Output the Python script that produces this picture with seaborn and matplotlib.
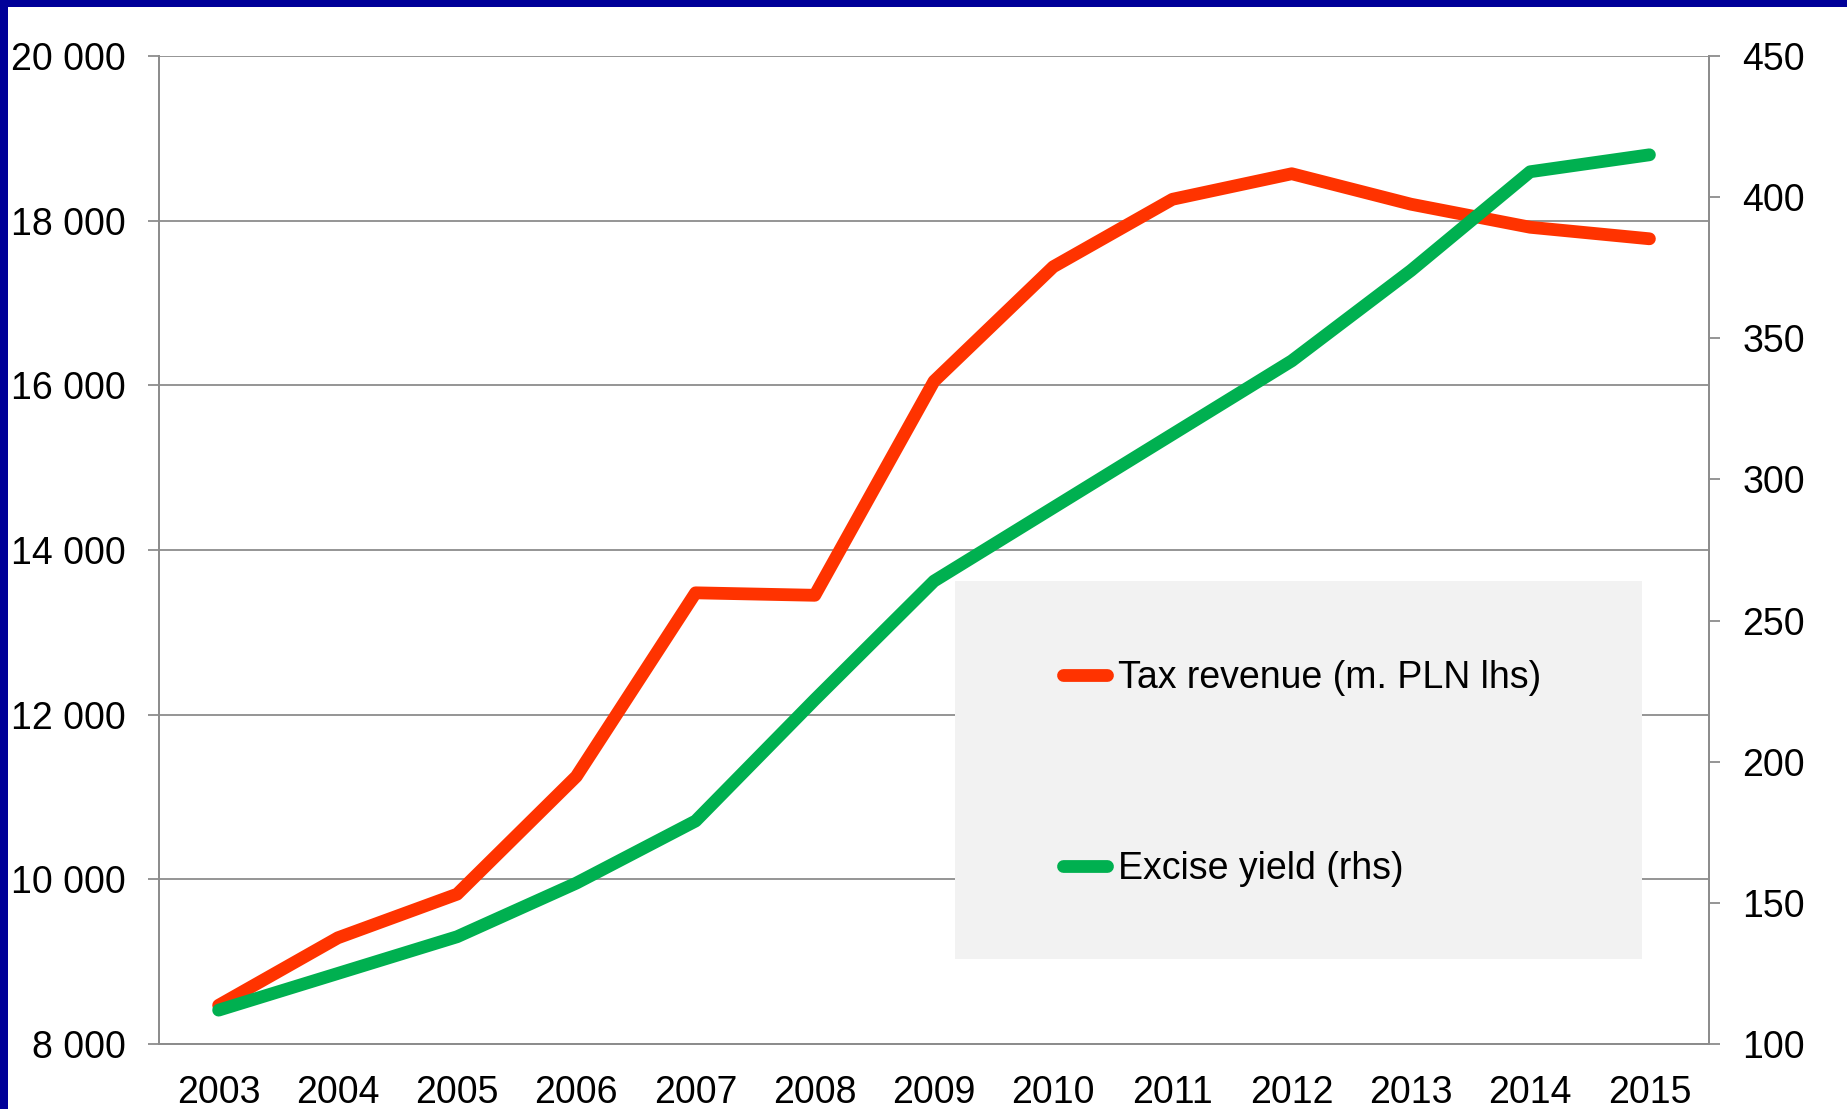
import numpy as np
import pandas as pd
import matplotlib
matplotlib.use("Agg")
import matplotlib.pyplot as plt
import seaborn as sns
from matplotlib.patches import Rectangle

years = ['2003', '2004', '2005', '2006', '2007', '2008', '2009',
         '2010', '2011', '2012', '2013', '2014', '2015']
tax_revenue = [8470, 9290, 9820, 11250, 13480, 13450, 16050,
               17440, 18260, 18570, 18200, 17920, 17780]
excise_yield = [112, 125, 138, 157, 179, 222, 264,
                290, 316, 342, 374, 409, 415]

left_ticks = [8000, 10000, 12000, 14000, 16000, 18000, 20000]
right_ticks = [100, 150, 200, 250, 300, 350, 400, 450]

label_tax = "Tax revenue (m. PLN lhs)"
label_exc = "Excise yield (rhs)"

red = '#FF3300'
green = '#00B050'
grey = '#8C8C8C'

df = pd.DataFrame({'pos': np.arange(len(years)), 'year': years,
                   'tax': tax_revenue, 'excise': excise_yield})

sns.set_style("white")
plt.rcParams['font.family'] = ['Liberation Sans', 'DejaVu Sans']
plt.rcParams['text.color'] = 'black'
plt.rcParams['xtick.labelcolor'] = 'black'
plt.rcParams['ytick.labelcolor'] = 'black'

fig, ax = plt.subplots(figsize=(18.47, 11.09), dpi=100)
fig.subplots_adjust(left=0.0861, right=0.9253, top=0.9495, bottom=0.0586)
ax2 = ax.twinx()

lw = 9.2
sns.lineplot(data=df, x='pos', y='tax', ax=ax, color=red, lw=lw,
             solid_capstyle='round', solid_joinstyle='round', label=label_tax, legend=False)
sns.lineplot(data=df, x='pos', y='excise', ax=ax2, color=green, lw=lw,
             solid_capstyle='round', solid_joinstyle='round', label=label_exc, legend=False)

# x axis: ticks between categories, labels at centres
ax.set_xlim(-0.5, len(years) - 0.5)
ax.set_xticks(np.arange(-0.5, len(years), 1.0))
ax.set_xticklabels([])
ax.set_xticks(np.arange(len(years)), minor=True)
ax.set_xticklabels(years, minor=True)
ax.tick_params(axis='x', which='minor', length=0, pad=22, labelsize=27, labelcolor='black')
ax.tick_params(axis='x', which='major', length=8, width=1.3, color=grey, direction='out')

ax.set_ylim(8000, 20000)
ax.set_yticks(left_ticks)
ax.set_yticklabels([f"{v:,}".replace(",", " ") for v in left_ticks])
ax.tick_params(axis='y', length=8, width=1.3, color=grey, pad=16, labelsize=27,
               left=True, labelcolor='black')

ax2.set_ylim(100, 450)
ax2.set_yticks(right_ticks)
ax2.tick_params(axis='y', length=8, width=1.3, color=grey, pad=16, labelsize=27,
                right=True, labelcolor='black')

ax.set_xlabel("")
ax.set_ylabel("")
ax2.set_ylabel("")

ax.set_axisbelow(True)
ax.grid(axis='y', color=grey, lw=1.3)
ax.grid(axis='x', visible=False)

for a in (ax, ax2):
    a.spines['top'].set_visible(False)
    for s in ('left', 'right', 'bottom'):
        a.spines[s].set_color(grey)
        a.spines[s].set_linewidth(1.3)

# grey legend panel
ax.add_patch(Rectangle((0.5135, 0.086), 0.4435, 0.3826, transform=ax.transAxes,
                       facecolor='#F2F2F2', edgecolor='none', zorder=1.5))

h1, l1 = ax.get_legend_handles_labels()
h2, l2 = ax2.get_legend_handles_labels()
leg = ax2.legend(h1 + h2, l1 + l2, loc='upper left', bbox_to_anchor=(0.5835, 0.389),
                 frameon=False, fontsize=27, borderpad=0, borderaxespad=0,
                 handlelength=1.15, handletextpad=0.3, labelspacing=4.15)

# blue slide border
fig.patches.append(Rectangle((0, 1 - 7 / 1109), 1, 7 / 1109, transform=fig.transFigure,
                             facecolor='#000099', edgecolor='none'))
fig.patches.append(Rectangle((0, 0), 8 / 1847, 1, transform=fig.transFigure,
                             facecolor='#000099', edgecolor='none'))

plt.savefig("out.png", dpi=100)
